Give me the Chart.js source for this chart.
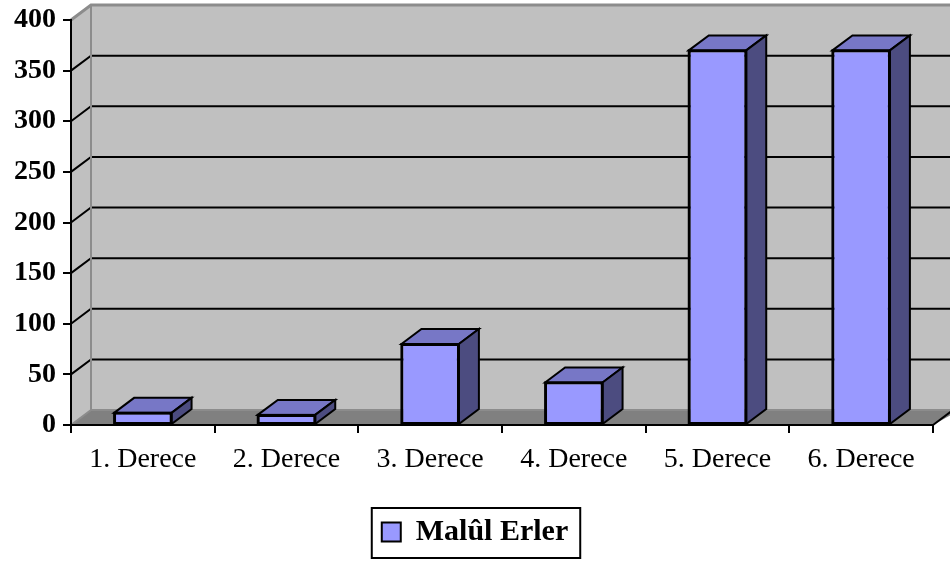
<!DOCTYPE html>
<html>
<head>
<meta charset="utf-8">
<script src="https://cdn.jsdelivr.net/npm/chart.js@4.4.1/dist/chart.umd.min.js"></script>
<style>
  html, body { margin: 0; padding: 0; background: #fff; }
</style>
</head>
<body>
<canvas id="chart" width="950" height="563"></canvas>
<script>
// data
const categories = ['1. Derece', '2. Derece', '3. Derece', '4. Derece', '5. Derece', '6. Derece'];
const seriesName = 'Malûl Erler';
const values = [12, 10, 80, 42, 370, 370];
const yTicks = [0, 50, 100, 150, 200, 250, 300, 350, 400];

// 3d depth of the walls and columns
const DX = 20, DY = 15;

function poly(ctx, pts, fill) {
    ctx.beginPath();
    ctx.moveTo(pts[0][0], pts[0][1]);
    for (let i = 1; i < pts.length; i++) ctx.lineTo(pts[i][0], pts[i][1]);
    ctx.closePath();
    ctx.fillStyle = fill;
    ctx.fill();
}

// back wall, side wall, floor and gridlines
const wallsPlugin = {
    id: 'walls',
    beforeDraw(chart) {
        const ctx = chart.ctx;
        const a = chart.chartArea;
        const y = chart.scales.y;
        const L = a.left, R = a.right, T = a.top, B = a.bottom;
        const far = chart.width + 10;
        ctx.save();
        ctx.fillStyle = '#fff';
        ctx.fillRect(0, 0, chart.width, chart.height);
        poly(ctx, [[L + DX, T - DY], [far, T - DY], [far, B - DY], [L + DX, B - DY]], '#c0c0c0');
        poly(ctx, [[L, T], [L + DX, T - DY], [L + DX, B - DY], [L, B]], '#c0c0c0');
        poly(ctx, [[L, B], [L + DX, B - DY], [far, B - DY], [R, B]], '#808080');

        ctx.strokeStyle = '#000';
        ctx.lineWidth = 2;
        yTicks.forEach(v => {
            if (v === yTicks[0] || v === yTicks[yTicks.length - 1]) return;
            const py = y.getPixelForValue(v);
            ctx.beginPath();
            ctx.moveTo(L, py);
            ctx.lineTo(L + DX, py - DY);
            ctx.lineTo(far, py - DY);
            ctx.stroke();
        });

        // gray wall edges
        ctx.strokeStyle = '#8c8c8c';
        ctx.lineWidth = 3;
        ctx.beginPath();
        ctx.moveTo(L, T);
        ctx.lineTo(L + DX, T - DY);
        ctx.lineTo(far, T - DY);
        ctx.stroke();
        ctx.lineWidth = 2;
        ctx.beginPath();
        ctx.moveTo(L + DX, T - DY);
        ctx.lineTo(L + DX, B - DY);
        ctx.lineTo(far, B - DY);
        ctx.moveTo(L, B);
        ctx.lineTo(L + DX, B - DY);
        ctx.stroke();

        // right edge of the floor
        ctx.strokeStyle = '#000';
        ctx.beginPath();
        ctx.moveTo(R, B);
        ctx.lineTo(R + DX, B - DY);
        ctx.stroke();
        ctx.restore();
    }
};

// top and side faces of each column
const columnsPlugin = {
    id: 'columns3d',
    afterDatasetsDraw(chart) {
        const ctx = chart.ctx;
        const meta = chart.getDatasetMeta(0);
        ctx.save();
        ctx.strokeStyle = '#000';
        ctx.lineWidth = 2;
        ctx.lineJoin = 'miter';
        meta.data.forEach(bar => {
            const p = bar.getProps(['x', 'y', 'base', 'width'], true);
            const l = p.x - p.width / 2, r = p.x + p.width / 2;
            const top = [[l, p.y], [l + DX, p.y - DY], [r + DX, p.y - DY], [r, p.y]];
            const side = [[r, p.y], [r + DX, p.y - DY], [r + DX, p.base - DY], [r, p.base]];
            poly(ctx, top, '#7777c6');
            ctx.stroke();
            poly(ctx, side, '#4c4c80');
            ctx.stroke();
            ctx.strokeRect(l, p.y, p.width, p.base - p.y);
        });
        ctx.restore();
    }
};

// frame around the legend
const legendBoxPlugin = {
    id: 'legendBox',
    afterDraw(chart) {
        const hb = chart.legend.legendHitBoxes[0];
        if (!hb) return;
        const ctx = chart.ctx;
        const cy = hb.top + hb.height / 2;
        ctx.save();
        ctx.strokeStyle = '#000';
        ctx.lineWidth = 2;
        ctx.strokeRect(hb.left - 10, cy - 24, hb.width + 22, 50);
        ctx.restore();
    }
};

new Chart(document.getElementById('chart'), {
    type: 'bar',
    data: {
        labels: categories,
        datasets: [{
            label: seriesName,
            data: values,
            backgroundColor: '#9999ff',
            borderColor: '#000',
            borderWidth: 2,
            borderSkipped: false,
            barPercentage: 0.4,
            categoryPercentage: 1.0
        }]
    },
    options: {
        responsive: false,
        animation: false,
        layout: { padding: { top: 20, left: 0, right: 0, bottom: 6 } },
        plugins: {
            tooltip: { enabled: false },
            legend: {
                position: 'bottom',
                labels: {
                    font: { family: 'Liberation Serif', size: 30, weight: 'bold' },
                    color: '#000',
                    boxWidth: 19,
                    boxHeight: 19,
                    padding: 10
                }
            }
        },
        scales: {
            x: {
                type: 'category',
                grid: { drawOnChartArea: false, tickLength: 8, color: '#000', lineWidth: 2, offset: true },
                border: { color: '#000', width: 2 },
                ticks: {
                    font: { family: 'Liberation Serif', size: 28 },
                    color: '#000',
                    padding: 10,
                    maxRotation: 0,
                    autoSkip: false
                },
                afterFit: s => { s.height = 82; }
            },
            y: {
                min: 0,
                max: 400,
                grid: { drawOnChartArea: false, tickLength: 8, color: '#000', lineWidth: 2 },
                border: { color: '#000', width: 2 },
                ticks: {
                    font: { family: 'Liberation Serif', size: 28, weight: 'bold' },
                    color: '#000',
                    padding: 7
                },
                afterBuildTicks: s => { s.ticks = yTicks.map(v => ({ value: v })); },
                afterFit: s => {
                    s.width = 71;
                    s.paddingTop = 0;
                    s.paddingBottom = 0;
                }
            },
            yRight: {
                position: 'right',
                display: true,
                grid: { display: false },
                border: { display: false },
                ticks: { display: false },
                afterFit: s => { s.width = 17; }
            }
        }
    },
    plugins: [wallsPlugin, columnsPlugin, legendBoxPlugin]
});
</script>
</body>
</html>
